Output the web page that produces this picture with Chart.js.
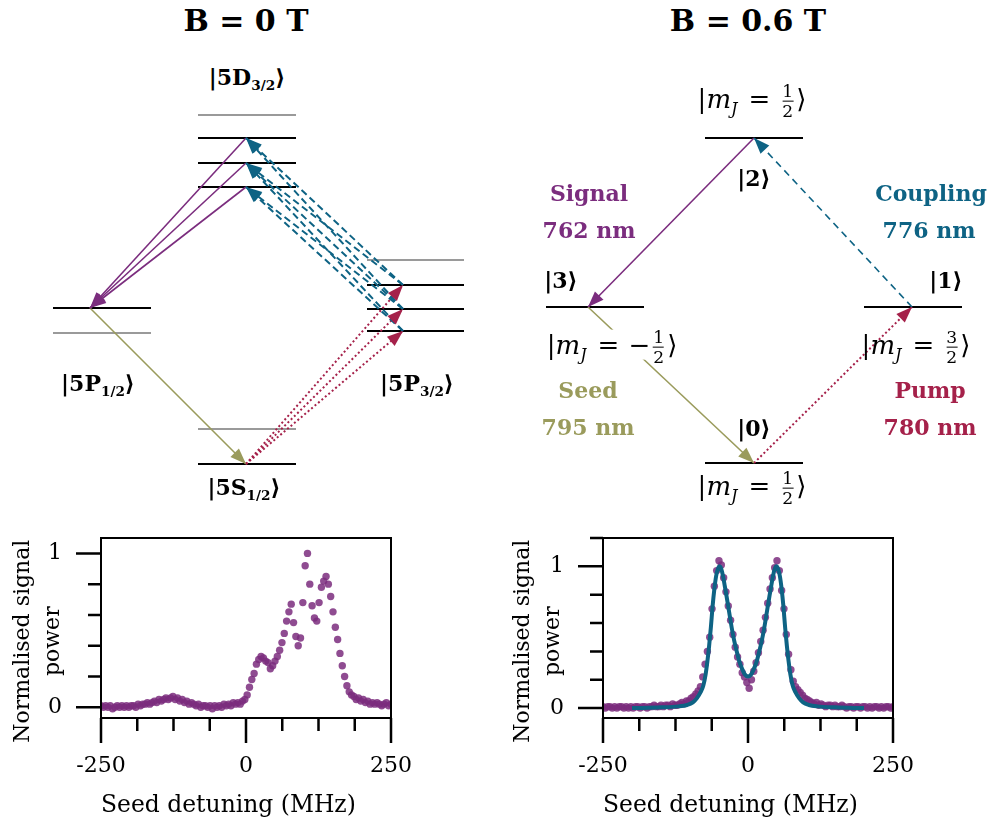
<!DOCTYPE html>
<html>
<head>
<meta charset="utf-8">
<script src="https://cdn.jsdelivr.net/npm/chart.js@4.4.1/dist/chart.umd.min.js"></script>
<style>
  body { margin: 0; background: #fff; }
  #fig { position: relative; width: 989px; height: 825px; overflow: hidden; font-family: 'DejaVu Serif', serif; color: #000; background: #fff; }
  canvas { position: absolute; }
  .lbl { position: absolute; transform: translate(-50%, -50%); white-space: nowrap; font-size: 22px; line-height: 1; z-index: 2; }
  .b { font-weight: bold; }
  .mj { font-size: 26px; }
  .eq { display: inline-block; margin: 0 9px 0 11px; }
  .title { font-size: 30px; font-weight: bold; }
  .frac { display: inline-block; vertical-align: middle; text-align: center; font-size: 0.66em; line-height: 1.1; margin: 0 3px; }
  .frac span { display: block; }
  .frac span:first-child { border-bottom: 1px solid #000; }
  sub { font-size: 0.62em; vertical-align: -0.35em; line-height: 0; }
  .cut { background: #fff; }
</style>
</head>
<body>
<div id="fig">
  <canvas id="diagB0" width="440" height="380" style="left:40px;top:100px"></canvas>
  <canvas id="diagB6" width="460" height="380" style="left:520px;top:100px"></canvas>
  <canvas id="plotB0" width="460" height="295" style="left:0;top:530px"></canvas>
  <canvas id="plotB6" width="489" height="295" style="left:500px;top:530px"></canvas>

  <div class="lbl title" style="left:246px;top:21px">B = 0 T</div>
  <div class="lbl title" style="left:748px;top:21px">B = 0.6 T</div>

  <div class="lbl b" style="left:247px;top:77px">|5D<sub>3/2</sub>⟩</div>
  <div class="lbl b" style="left:98px;top:383px">|5P<sub>1/2</sub>⟩</div>
  <div class="lbl b" style="left:417px;top:383px">|5P<sub>3/2</sub>⟩</div>
  <div class="lbl b" style="left:244px;top:487px">|5S<sub>1/2</sub>⟩</div>

  <div class="lbl mj" style="left:752px;top:101px">|<i>m</i><sub><i>J</i></sub><span class="eq">=</span><span class="frac"><span>1</span><span>2</span></span>⟩</div>
  <div class="lbl b" style="left:754px;top:178px">|2⟩</div>
  <div class="lbl b" style="left:589px;top:193px;color:#7b2d7e">Signal</div>
  <div class="lbl b" style="left:589px;top:230px;color:#7b2d7e">762 nm</div>
  <div class="lbl b" style="left:931px;top:193px;color:#0e6384">Coupling</div>
  <div class="lbl b" style="left:929px;top:230px;color:#0e6384">776 nm</div>
  <div class="lbl b" style="left:561px;top:280px">|3⟩</div>
  <div class="lbl b" style="left:946px;top:280px">|1⟩</div>
  <div class="lbl mj" style="left:612px;top:347px">|<i>m</i><sub><i>J</i></sub><span class="cut"><span class="eq">=</span>−</span><span class="frac"><span>1</span><span>2</span></span>⟩</div>
  <div class="lbl mj" style="left:916px;top:347px">|<i>m</i><sub><i>J</i></sub><span class="eq">=</span><span class="frac"><span>3</span><span>2</span></span>⟩</div>
  <div class="lbl b" style="left:588px;top:390px;color:#9a9b5c">Seed</div>
  <div class="lbl b" style="left:588px;top:427px;color:#9a9b5c">795 nm</div>
  <div class="lbl b" style="left:930px;top:390px;color:#a5214a">Pump</div>
  <div class="lbl b" style="left:930px;top:427px;color:#a5214a">780 nm</div>
  <div class="lbl b" style="left:754px;top:428px">|0⟩</div>
  <div class="lbl mj" style="left:752px;top:488px">|<i>m</i><sub><i>J</i></sub><span class="eq">=</span><span class="frac"><span>1</span><span>2</span></span>⟩</div>
</div>

<script>
const PURPLE = '#7b2d7e';
const TEAL = '#0e6384';
const OLIVE = '#9a9b5c';
const CRIMSON = '#a5214a';

// ---- B = 0 T: hyperfine ladder (energy in arbitrary units) ----
// 0: 5S F=2, 1: 5S F=1, 2-3: 5P1/2, 4-7: 5P3/2, 8-11: 5D3/2
const hfEnergy = [1.6, 5.1, 17.2, 14.7, 14.9, 17.1, 19.5, 22.0, 29.3, 31.7, 34.2, 36.5];
const hfColumn = [1, 1, 0, 0, 2, 2, 2, 2, 1, 1, 1, 1];
const hfCoupled = [true, false, true, false, true, true, true, false, true, true, true, false];
const hfSeed = [[2, 0]];
const hfSignal = [[10, 2], [9, 2], [8, 2]];
const hfPump = [[0, 6], [0, 5], [0, 4]];
const hfCoupling = [[6, 10], [6, 9], [5, 10], [5, 9], [5, 8], [4, 9], [4, 8]];

// ---- B = 0.6 T: four-level Zeeman system |0>..|3> ----
const zEnergy = [1.7, 17.3, 34.2, 17.3];
const zColumn = [1, 2, 1, 0];
const zSignal = [[2, 3]];
const zSeed = [[3, 0]];
const zPump = [[0, 1]];
const zCoupling = [[1, 2]];

// ---- measured spectra ----
const detuning = [-250,-246,-242,-238,-234,-230,-226,-222,-218,-214,-210,-206,-202,-198,-194,-190,-186,-182,-178,-174,
  -170,-166,-162,-158,-154,-150,-146,-142,-138,-134,-130,-126,-122,-118,-114,-110,-106,-102,-98,-94,
  -90,-86,-82,-78,-74,-70,-66,-62,-58,-54,-50,-46,-42,-38,-34,-30,-26,-22,-18,-14,
  -10,-6,-2,2,6,10,14,18,22,26,30,34,38,42,46,50,54,58,62,66,
  70,74,78,82,86,90,94,98,102,106,110,114,118,122,126,130,134,138,142,146,
  150,154,158,162,166,170,174,178,182,186,190,194,198,202,206,210,214,218,222,226,
  230,234,238,242,246,250];

const signalB0 = [0.01,0.00,0.01,0.00,0.01,-0.01,0.00,0.01,0.00,0.01,
  0.00,0.01,0.00,0.01,0.01,0.00,0.02,0.01,0.02,0.02,
  0.03,0.02,0.03,0.04,0.03,0.05,0.04,0.05,0.06,0.05,
  0.06,0.07,0.05,0.06,0.04,0.05,0.03,0.04,0.02,0.03,
  0.02,0.01,0.02,0.00,0.01,0.01,0.00,0.01,-0.01,0.01,
  0.00,0.01,0.00,0.02,0.01,0.02,0.01,0.03,0.02,0.03,
  0.02,0.04,0.05,0.08,0.13,0.18,0.22,0.28,0.31,0.33,
  0.32,0.30,0.29,0.25,0.27,0.30,0.33,0.37,0.42,0.48,
  0.56,0.62,0.67,0.55,0.46,0.40,0.45,0.68,0.92,1.00,
  0.80,0.66,0.58,0.56,0.68,0.78,0.82,0.85,0.80,0.72,
  0.62,0.52,0.44,0.35,0.27,0.20,0.14,0.10,0.08,0.07,
  0.05,0.06,0.04,0.05,0.03,0.04,0.02,0.03,0.02,0.03,
  0.02,0.01,0.02,0.03,0.01,0.02];

const signalB6 = [0.01,0.00,0.01,0.01,0.00,0.01,0.00,0.01,0.01,0.00,
  0.01,0.00,0.01,0.00,0.01,0.01,0.00,0.01,0.01,0.00,
  0.01,0.01,0.02,0.01,0.01,0.02,0.01,0.02,0.02,0.01,
  0.03,0.02,0.02,0.03,0.04,0.03,0.05,0.05,0.07,0.08,
  0.10,0.12,0.15,0.22,0.31,0.40,0.50,0.70,0.86,0.97,
  1.04,1.01,0.92,0.82,0.72,0.62,0.52,0.43,0.36,0.31,
  0.25,0.22,0.18,0.14,0.20,0.26,0.32,0.39,0.47,0.55,
  0.64,0.74,0.84,0.92,0.99,1.04,0.97,0.83,0.70,0.52,
  0.38,0.27,0.19,0.15,0.13,0.11,0.09,0.07,0.06,0.05,
  0.04,0.03,0.04,0.02,0.03,0.02,0.01,0.02,0.02,0.01,
  0.02,0.01,0.01,0.02,0.01,0.00,0.01,0.01,0.00,0.01,
  0.01,0.00,0.01,0.01,0.00,0.01,0.00,0.01,0.01,0.00,
  0.01,0.00,0.01,0.01,0.00,0.01];

// model fit for B = 0.6 T
const fitDetuning = [-200,-150,-120,-105,-95,-88,-82,-77,-73,-70,-67,-64,-61,-58,-55,-52,-49,-46,-43,-40,
  -37,-33,-28,-24,-20,-15,-10,-5,0,5,10,15,20,24,28,33,37,40,43,46,
  49,52,55,58,61,64,67,70,73,77,82,88,95,105,120,150,200];
const fitSignal = [0,0.005,0.012,0.022,0.04,0.07,0.11,0.16,0.24,0.33,0.44,0.57,0.72,0.84,0.93,0.98,1.0,0.98,0.93,0.86,
  0.79,0.69,0.565,0.48,0.41,0.33,0.275,0.235,0.222,0.235,0.275,0.33,0.41,0.48,0.565,0.69,0.79,0.86,0.93,0.98,
  1.0,0.98,0.93,0.84,0.72,0.57,0.44,0.33,0.24,0.16,0.11,0.07,0.04,0.022,0.012,0.005,0];

const xTicks = [-250, -187.5, -125, -62.5, 0, 62.5, 125, 187.5, 250];
const xMajor = [-250, 0, 250];
const yTicksB0 = [0, 0.2, 0.4, 0.6, 0.8, 1];
const yTicksB6 = [0, 0.2, 0.4, 0.6, 0.8, 1, 1.2];
const yMajor = [0, 1];

const toPoints = (xs, ys) => xs.map((x, i) => ({ x, y: ys[i] }));

// arrowheads at the end of every transition line
const arrowHeads = {
  id: 'arrowHeads',
  afterDatasetsDraw(chart) {
    const ctx = chart.ctx;
    chart.data.datasets.forEach((ds, i) => {
      if (!ds.arrow) return;
      const pts = chart.getDatasetMeta(i).data;
      const a = pts[0], b = pts[pts.length - 1];
      const ang = Math.atan2(b.y - a.y, b.x - a.x);
      ctx.save();
      ctx.fillStyle = ds.borderColor;
      ctx.translate(b.x, b.y);
      ctx.rotate(ang);
      ctx.beginPath();
      ctx.moveTo(0, 0);
      ctx.lineTo(-16, -6);
      ctx.lineTo(-16, 6);
      ctx.closePath();
      ctx.fill();
      ctx.restore();
    });
  }
};

function levelSets(energy, column, coupled, span) {
  return energy.map((e, i) => ({
    data: [{ x: span[column[i]][0], y: e }, { x: span[column[i]][1], y: e }],
    showLine: true, pointRadius: 0, borderWidth: 2,
    borderColor: coupled[i] ? '#000' : '#9a9a9a'
  }));
}

function arrowSets(pairs, energy, column, anchor, style) {
  return pairs.map(([from, to]) => ({
    data: [{ x: anchor[column[from]], y: energy[from] }, { x: anchor[column[to]], y: energy[to] }],
    showLine: true, pointRadius: 0, arrow: true, borderCapStyle: 'butt', ...style
  }));
}

function diagram(id, xMax, datasets) {
  return new Chart(document.getElementById(id), {
    type: 'scatter',
    data: { datasets },
    options: {
      responsive: false, animation: false, events: [], devicePixelRatio: 1,
      layout: { padding: 0 },
      plugins: { legend: { display: false }, tooltip: { enabled: false } },
      scales: {
        x: { type: 'linear', display: false, min: 0, max: xMax },
        y: { type: 'linear', display: false, min: 0, max: 38 }
      }
    },
    plugins: [arrowHeads]
  });
}

const signalStyle = { borderColor: PURPLE, borderWidth: 1.6 };
const seedStyle = { borderColor: OLIVE, borderWidth: 1.6 };
const pumpStyle = { borderColor: CRIMSON, borderWidth: 2, borderDash: [2, 2.5] };
const couplingStyle = { borderColor: TEAL, borderWidth: 2, borderDash: [7, 4] };

// B = 0 T ladder
const hfSpan = [[1.3, 11.1], [15.8, 25.6], [32.7, 42.4]];
const hfAnchor = [5.0, 20.6, 36.3];
diagram('diagB0', 44, [
  ...arrowSets(hfCoupling, hfEnergy, hfColumn, hfAnchor, couplingStyle),
  ...arrowSets(hfPump, hfEnergy, hfColumn, hfAnchor, pumpStyle),
  ...arrowSets(hfSignal, hfEnergy, hfColumn, hfAnchor, signalStyle),
  ...arrowSets(hfSeed, hfEnergy, hfColumn, hfAnchor, seedStyle),
  ...levelSets(hfEnergy, hfColumn, hfCoupled, hfSpan)
]);

// B = 0.6 T ladder
const zSpan = [[2.6, 12.4], [18.5, 28.3], [34.4, 44.2]];
const zAnchor = [6.8, 23.4, 39.2];
diagram('diagB6', 46, [
  ...arrowSets(zCoupling, zEnergy, zColumn, zAnchor, { ...couplingStyle, borderWidth: 1.6, borderDash: [7, 5] }),
  ...arrowSets(zPump, zEnergy, zColumn, zAnchor, pumpStyle),
  ...arrowSets(zSignal, zEnergy, zColumn, zAnchor, signalStyle),
  ...arrowSets(zSeed, zEnergy, zColumn, zAnchor, seedStyle),
  ...levelSets(zEnergy, zColumn, zEnergy.map(() => true), zSpan)
]);

// box frame plus long/short tick marks
const frameTicks = {
  id: 'frameTicks',
  afterDraw(chart) {
    const { ctx, chartArea: a, scales } = chart;
    ctx.save();
    ctx.strokeStyle = '#000';
    ctx.lineWidth = 2.5;
    ctx.beginPath();
    scales.x.ticks.forEach(t => {
      const px = scales.x.getPixelForValue(t.value);
      ctx.moveTo(px, a.bottom);
      ctx.lineTo(px, a.bottom + (xMajor.includes(t.value) ? 25 : 13));
    });
    scales.y.ticks.forEach(t => {
      const py = scales.y.getPixelForValue(t.value);
      ctx.moveTo(a.left, py);
      ctx.lineTo(a.left - (yMajor.includes(t.value) ? 25 : 13), py);
    });
    ctx.stroke();
    ctx.lineWidth = 2;
    ctx.strokeRect(a.left, a.top, a.right - a.left, a.bottom - a.top);
    ctx.restore();
  }
};

const font = { family: 'DejaVu Serif', size: 22 };

function spectrum(id, datasets, yTicks, yMax, yWidth, rightPad) {
  return new Chart(document.getElementById(id), {
    type: 'scatter',
    data: { datasets },
    options: {
      responsive: false, animation: false, events: [], devicePixelRatio: 1,
      layout: { padding: { top: 8, right: rightPad, bottom: 0, left: 0 } },
      plugins: { legend: { display: false }, tooltip: { enabled: false } },
      scales: {
        x: {
          type: 'linear', min: -250, max: 250,
          afterBuildTicks: s => { s.ticks = xTicks.map(v => ({ value: v })); },
          afterFit: s => { s.height = 107; s.paddingLeft = 0; s.paddingRight = 0; },
          grid: { drawOnChartArea: false, tickLength: 25, tickColor: 'rgba(0,0,0,0)' },
          border: { display: false },
          ticks: { autoSkip: false, maxRotation: 0, padding: 10, color: '#000', font,
                   callback: v => xMajor.includes(v) ? String(v) : '' },
          title: { display: true, text: 'Seed detuning (MHz)\u2003\u2002', color: '#000',
                   font: { ...font, size: 24 }, padding: { bottom: 5 } }
        },
        y: {
          type: 'linear', min: -0.07, max: yMax,
          afterBuildTicks: s => { s.ticks = yTicks.map(v => ({ value: v })); },
          afterFit: s => { s.width = yWidth; s.paddingTop = 0; s.paddingBottom = 0; },
          grid: { drawOnChartArea: false, tickLength: 25, tickColor: 'rgba(0,0,0,0)' },
          border: { display: false },
          ticks: { autoSkip: false, padding: 14, color: '#000', font,
                   callback: v => yMajor.includes(v) ? String(v) : '' },
          title: { display: true, text: ['Normalised signal\u2003\u2009', 'power\u2003\u2009'], color: '#000',
                   font: { ...font, lineHeight: 1.36 }, padding: { top: 8 } }
        }
      }
    },
    plugins: [frameTicks]
  });
}

const dots = ys => ({
  data: toPoints(detuning, ys),
  pointRadius: 3.7, pointBorderWidth: 0,
  pointBackgroundColor: 'rgba(123,45,126,0.85)'
});

spectrum('plotB0', [dots(signalB0)], yTicksB0, 1.1, 101, 69);

spectrum('plotB6', [
  { data: toPoints(fitDetuning, fitSignal), showLine: true, pointRadius: 0,
    borderColor: TEAL, borderWidth: 4, cubicInterpolationMode: 'monotone' },
  dots(signalB6)
], yTicksB6, 1.2, 103, 96);
</script>
</body>
</html>
